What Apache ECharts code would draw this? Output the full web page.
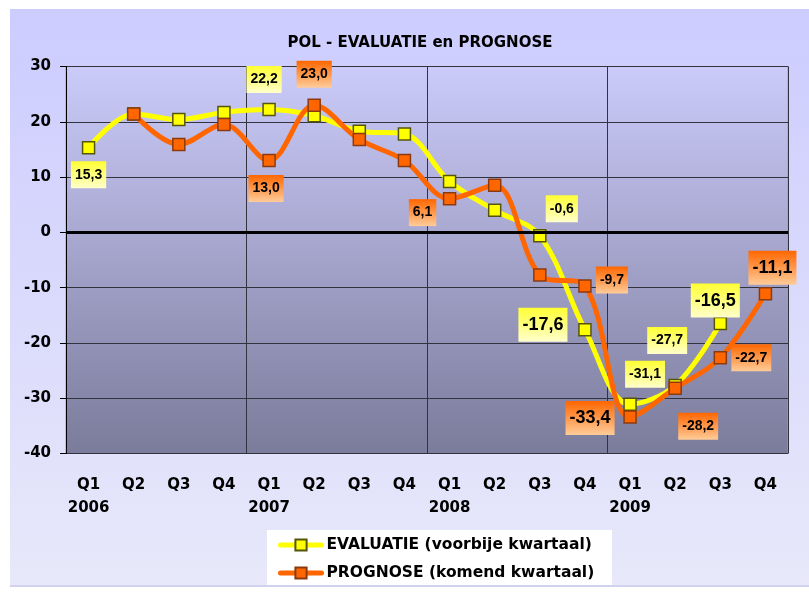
<!DOCTYPE html>
<html><head><meta charset="utf-8">
<script src="https://cdn.jsdelivr.net/npm/echarts@6/dist/echarts.min.js"></script>
<style>
html,body{margin:0;padding:0;background:#fff;}
#c{position:absolute;left:10px;top:9px;width:799px;height:576px;border-bottom:2px solid #D2D2EE;}
</style></head><body><div id="c"></div>
<script>
const quarters = ['Q1','Q2','Q3','Q4','Q1','Q2','Q3','Q4','Q1','Q2','Q3','Q4','Q1','Q2','Q3','Q4'];
const years    = ['2006','','','','2007','','','','2008','','','','2009','','',''];
const evaluatie = [15.3, 21.4, 20.4, 21.7, 22.2, 21.1, 18.3, 17.8, 9.2, 4.0, -0.6, -17.6, -31.1, -27.7, -16.5, null];
const prognose  = [null, 21.4, 15.9, 19.5, 13.0, 23.0, 16.8, 13.0, 6.1, 8.5, -7.7, -9.7, -33.4, -28.2, -22.7, -11.1];
const yMin = -40, yMax = 30, yStep = 10;
const seriesNames = ['EVALUATIE (voorbije kwartaal)', 'PROGNOSE (komend kwartaal)'];

// label placement (offset from point, size class) — layout only
const evalLabels = {0:[0,27,'n'],4:[-5,-30,'n'],10:[22,-27,'n'],11:[-42,-5,'b'],12:[15,-30,'n'],13:[-8,-45,'n'],14:[-5,-23,'b']};
const progLabels = {4:[-3,28,'n'],5:[0,-31,'n'],8:[-27,14,'n'],11:[27,-6,'n'],12:[-40,1,'b'],13:[23,38,'n'],14:[31,0,'n'],15:[7,-26,'b']};

function grad(c1, c2){
  return {type:'linear',x:0,y:0,x2:0,y2:1,colorStops:[{offset:0,color:c1},{offset:1,color:c2}]};
}
const yellowBg = grad('#FFFF33','#FFFFCC');
const orangeBg = grad('#FF6600','#FFCC99');
function fmt(v){ return v.toFixed(1).replace('.', ','); }
function build(values, places, bg){
  return values.map((v,i)=>{
    const p = places[i];
    if (!p || v === null) return v;
    const big = p[2] === 'b';
    return {value:v, label:{
      show:true, position:'inside', offset:[p[0],p[1]],
      formatter: fmt(v),
      fontFamily:'Liberation Sans, Arial, sans-serif', fontWeight:'bold',
      fontSize: big?18:14, lineHeight: big?20:15, color:'#000',
      backgroundColor: bg, padding: big?[7,4]:[6,4]
    }};
  });
}
const axisFont = {fontFamily:'DejaVu Sans, sans-serif', fontWeight:'bold', fontSize:15, color:'#000'};
const legendCommon = {orient:'vertical', left:268, padding:0, itemWidth:41, itemHeight:14,
  lineStyle:{width:5, cap:'round'},
  textStyle:{fontFamily:'DejaVu Sans, sans-serif', fontWeight:'bold', fontSize:15.5, color:'#000'}};

const chart = echarts.init(document.getElementById('c'));
chart.setOption({
  animation:false,
  backgroundColor: grad('#CCCCFF','#E8E8FA'),
  title:{text:'POL - EVALUATIE en PROGNOSE', left:405, textAlign:'center', top:22,
    textStyle:{fontFamily:'DejaVu Sans, sans-serif', fontWeight:'bold', fontSize:15, color:'#000'}},
  grid:{left:56, top:57.5, right:21, bottom:131.5, show:true,
    backgroundColor: grad('#CBCBFA','#7B7B9B'), borderColor:'#9A9AC8', borderWidth:1},
  graphic:[{type:'rect', left:257, top:521, shape:{width:345, height:55}, style:{fill:'#fff'}, z:0}],
  legend:[
    {...legendCommon, top:528, data:[seriesNames[0]]},
    {...legendCommon, top:556, data:[seriesNames[1]]}
  ],
  xAxis:{type:'category', data:quarters, boundaryGap:true,
    axisLine:{show:false}, axisTick:{show:false},
    axisLabel:{...axisFont, margin:20, lineHeight:23, interval:0,
      formatter:(v,i)=> years[i] ? v+'\n'+years[i] : v},
    splitLine:{show:true, interval:(i)=> i%4===0 && i>0, lineStyle:{color:'#333340', width:1}}},
  yAxis:{type:'value', min:yMin, max:yMax, interval:yStep,
    axisLine:{show:true, lineStyle:{color:'#000', width:1}},
    axisTick:{show:true, inside:false, length:6, lineStyle:{color:'#000'}},
    axisLabel:{...axisFont, margin:15},
    splitLine:{show:true, lineStyle:{color:'#333340', width:1}}},
  series:[
    {name:seriesNames[0], type:'line', smooth:0.35, data:build(evaluatie, evalLabels, yellowBg),
     symbol:'rect', symbolSize:12, showAllSymbol:true,
     lineStyle:{color:'#FFFF00', width:5},
     itemStyle:{color:'#FFFF00', borderColor:'#55550A', borderWidth:1.5},
     markLine:{silent:true, symbol:'none', label:{show:false},
       lineStyle:{color:'#000', width:3, type:'solid'}, data:[{yAxis:0}]},
     z:2},
    {name:seriesNames[1], type:'line', smooth:0.35, data:build(prognose, progLabels, orangeBg),
     symbol:'rect', symbolSize:12, showAllSymbol:true,
     lineStyle:{color:'#FF6600', width:5},
     itemStyle:{color:'#FF6600', borderColor:'#8B3A10', borderWidth:1.5},
     z:3}
  ]
});
</script></body></html>
